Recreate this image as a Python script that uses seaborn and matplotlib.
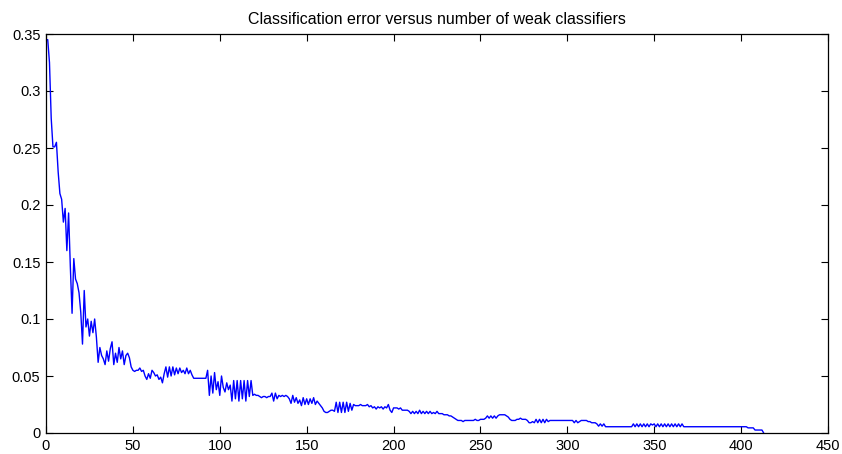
import numpy as np
import pandas as pd
import matplotlib
matplotlib.use("Agg")
import matplotlib.pyplot as plt
import seaborn as sns

title = "Classification error versus number of weak classifiers"
x_ticks = [0, 50, 100, 150, 200, 250, 300, 350, 400, 450]
y_ticks = [0, 0.05, 0.1, 0.15, 0.2, 0.25, 0.3, 0.35]
y_tick_labels = ["0", "0.05", "0.1", "0.15", "0.2", "0.25", "0.3", "0.35"]

error_part1 = [
    0.345, 0.345, 0.325, 0.276, 0.251, 0.251, 0.255, 0.229, 0.210, 0.205, 0.185, 0.197,
    0.160, 0.193, 0.146, 0.105, 0.153, 0.135, 0.131, 0.123, 0.106, 0.078,
    0.125, 0.093, 0.100, 0.085, 0.098, 0.088, 0.100, 0.084, 0.062, 0.075,
    0.068, 0.065, 0.060, 0.072, 0.063, 0.074, 0.080, 0.060, 0.070, 0.062,
    0.075, 0.065, 0.072, 0.060, 0.068, 0.070, 0.066, 0.058, 0.055, 0.054,
    0.055, 0.055, 0.057, 0.054, 0.055, 0.050, 0.047, 0.052, 0.048, 0.055,
    0.053, 0.050, 0.051, 0.047, 0.049, 0.044, 0.052, 0.058, 0.049, 0.058,
    0.050, 0.058, 0.051, 0.057, 0.052, 0.057, 0.053, 0.055, 0.052, 0.057,
    0.052, 0.055, 0.051, 0.048, 0.048, 0.048, 0.048, 0.048, 0.048, 0.048,
    0.048, 0.055, 0.033, 0.050, 0.035, 0.053, 0.038, 0.045, 0.033,
]
error_part2 = [
    0.050, 0.040, 0.036, 0.044, 0.038, 0.042, 0.028, 0.046, 0.030, 0.046,
    0.028, 0.046, 0.030, 0.046, 0.028, 0.046, 0.032, 0.046, 0.033, 0.034,
    0.033, 0.033, 0.032, 0.031, 0.032, 0.032, 0.031, 0.032, 0.032, 0.035,
    0.028, 0.035, 0.030, 0.033, 0.032, 0.033, 0.032, 0.033, 0.032, 0.030,
    0.026, 0.033, 0.027, 0.031, 0.026, 0.029, 0.024, 0.031, 0.025, 0.030,
    0.025, 0.030, 0.026, 0.031, 0.025, 0.028, 0.026, 0.024, 0.022, 0.019,
    0.018, 0.018, 0.019, 0.020, 0.020, 0.019, 0.027, 0.018, 0.027, 0.018,
    0.027, 0.018, 0.027, 0.019, 0.026, 0.020, 0.025, 0.024, 0.024, 0.024,
    0.025, 0.024, 0.024, 0.024, 0.025, 0.023, 0.024, 0.022, 0.023, 0.021,
    0.023, 0.022, 0.023, 0.021, 0.023, 0.022, 0.025, 0.020, 0.018, 0.022,
]
error_part3 = [
    0.022, 0.022, 0.021, 0.022, 0.020, 0.020, 0.020, 0.020, 0.019, 0.017,
    0.019, 0.017, 0.019, 0.017, 0.020, 0.017, 0.019, 0.017, 0.019, 0.017,
    0.019, 0.017, 0.018, 0.017, 0.019, 0.017, 0.017, 0.017, 0.016, 0.016,
    0.016, 0.015, 0.015, 0.014, 0.013, 0.012, 0.011, 0.011, 0.011, 0.010,
    0.011, 0.011, 0.011, 0.011, 0.011, 0.011, 0.012, 0.011, 0.011, 0.012,
    0.012, 0.012, 0.013, 0.015, 0.013, 0.015, 0.013, 0.015, 0.013, 0.015,
    0.016, 0.016, 0.016, 0.016, 0.015, 0.014, 0.012, 0.011, 0.011, 0.011,
    0.012, 0.012, 0.013, 0.012, 0.012, 0.012, 0.011, 0.009, 0.009, 0.010,
    0.009, 0.012, 0.009, 0.012, 0.009, 0.012, 0.009, 0.012, 0.010, 0.011,
    0.011, 0.011, 0.011, 0.011, 0.011, 0.011, 0.011, 0.011, 0.011, 0.011,
]
error_part4 = [
    0.011, 0.011, 0.011, 0.009, 0.011, 0.009, 0.010, 0.011, 0.011, 0.011,
    0.011, 0.010, 0.010, 0.009, 0.009, 0.009, 0.008, 0.006, 0.008, 0.006,
    0.008, 0.0055, 0.0055, 0.0055, 0.0055, 0.0055, 0.0055, 0.0055, 0.0055, 0.0055,
    0.0055, 0.0055, 0.0055, 0.0055, 0.0055, 0.0055, 0.0055, 0.008, 0.0055, 0.008,
    0.0055, 0.008, 0.0055, 0.008, 0.0055, 0.008, 0.0055, 0.008, 0.007, 0.008,
    0.0055, 0.008, 0.0055, 0.008, 0.0055, 0.008, 0.0055, 0.008, 0.0055, 0.008,
    0.0055, 0.008, 0.0055, 0.008, 0.0055, 0.008, 0.0055, 0.0055, 0.0055, 0.0055,
    0.0055, 0.0055, 0.0055, 0.0055, 0.0055, 0.0055, 0.0055, 0.0055, 0.0055, 0.0055,
    0.0055, 0.0055, 0.0055, 0.0055, 0.0055, 0.0055, 0.0055, 0.0055, 0.0055, 0.0055,
    0.0055, 0.0055, 0.0055, 0.0055, 0.0055, 0.0055, 0.0055, 0.0055, 0.0055, 0.0055,
    0.0055, 0.0055, 0.0055, 0.0045, 0.0045, 0.0045, 0.0045, 0.0026, 0.0026, 0.0026,
    0.0026, 0.0026, 0.0,
]

error = error_part1 + error_part2 + error_part3 + error_part4
rounds = list(range(0, len(error)))
df = pd.DataFrame({"rounds": rounds, "error": error})

sns.set_style("white")
plt.rcParams["font.family"] = ["Liberation Sans", "DejaVu Sans"]
plt.rcParams["text.color"] = "black"

fig = plt.figure(figsize=(8.42, 4.54), dpi=100)
ax = fig.add_axes([46 / 842, 21 / 454, 782 / 842, 399 / 454])
sns.lineplot(data=df, x="rounds", y="error", ax=ax, color="#0000ff", linewidth=1.0)

ax.set_xlim(0, 450)
ax.set_ylim(0, 0.35)
ax.set_xticks(x_ticks)
ax.set_xticklabels([str(t) for t in x_ticks])
ax.set_yticks(y_ticks)
ax.set_yticklabels(y_tick_labels)
ax.set_xlabel("")
ax.set_ylabel("")
ax.tick_params(direction="in", length=5, width=0.8, top=True, right=True,
               bottom=True, left=True, labelsize=10.5, colors="black", pad=4)
for s in ax.spines.values():
    s.set_visible(True)
    s.set_color("black")
    s.set_linewidth(0.9)
ax.set_title(title, fontsize=11.5, pad=7, color="black")

fig.savefig("out.png", dpi=100, facecolor="white")
